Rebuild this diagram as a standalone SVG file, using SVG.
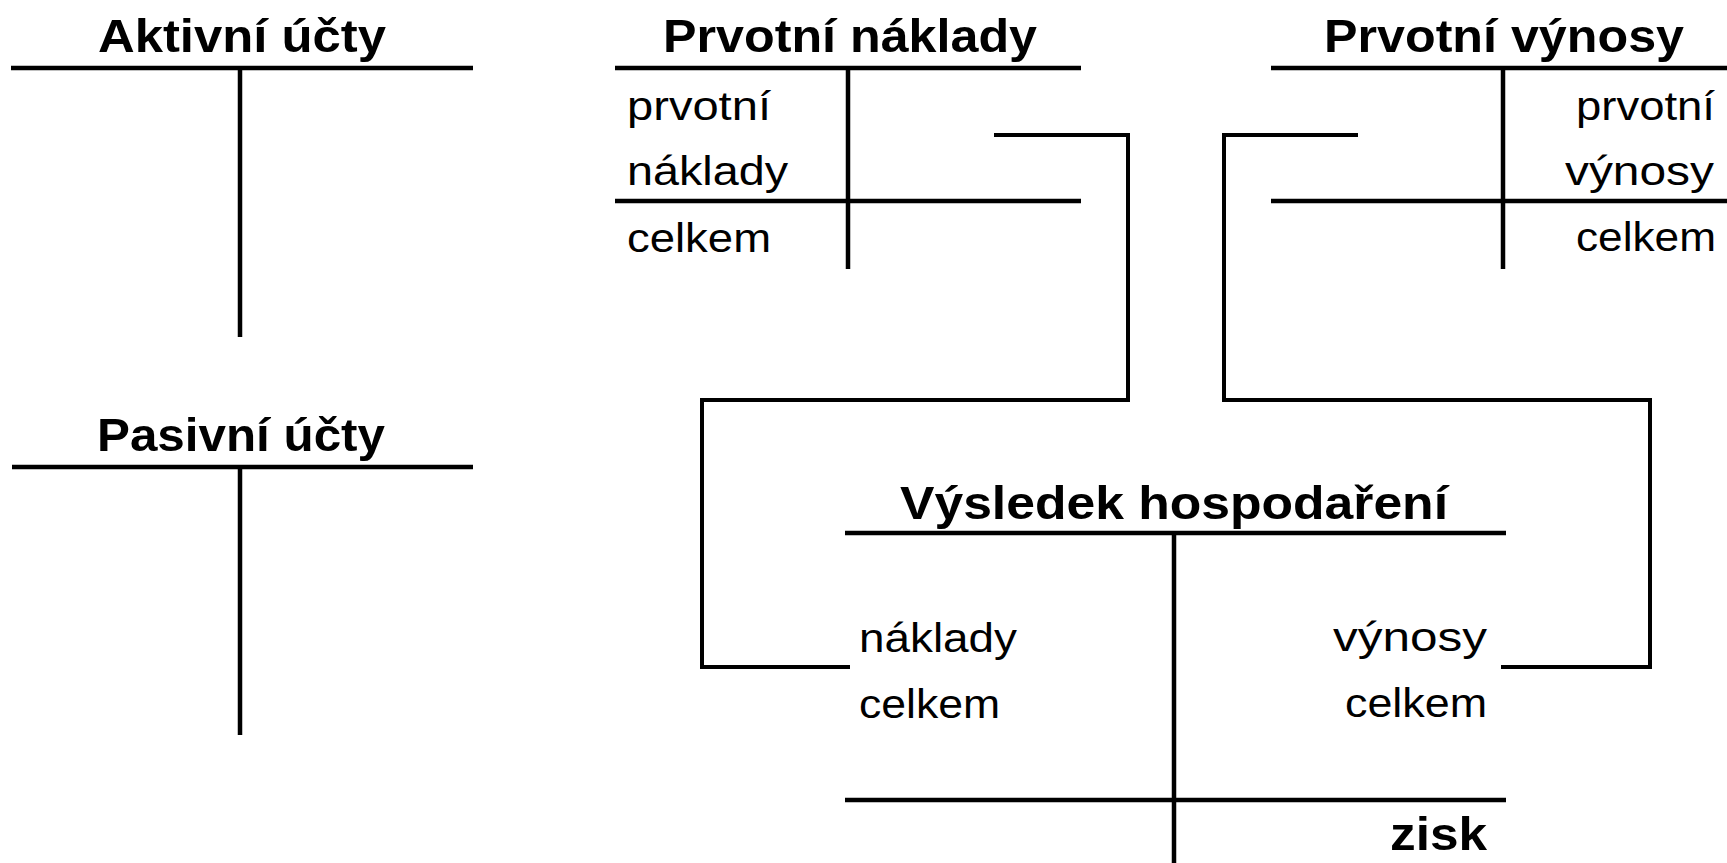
<svg xmlns="http://www.w3.org/2000/svg" width="1727" height="863" viewBox="0 0 1727 863">
<style>
.ln{stroke:#000;stroke-width:4.5;fill:none}
.cn{stroke:#000;stroke-width:4;fill:none;stroke-linejoin:miter}
.tt{font-family:"Liberation Sans",Arial,sans-serif;font-weight:bold;font-size:47px;fill:#000}
.tx{font-family:"Liberation Sans",Arial,sans-serif;font-size:40px;fill:#000}
</style>
<rect width="1727" height="863" fill="#fff"/>
<g id="aktivni">
<text class="tt" x="98" y="52" textLength="288" lengthAdjust="spacingAndGlyphs">Aktivní účty</text>
<line class="ln" x1="11" y1="68" x2="473" y2="68"/>
<line class="ln" x1="240" y1="68" x2="240" y2="337"/>
</g>
<g id="pasivni">
<text class="tt" x="97" y="451" textLength="288" lengthAdjust="spacingAndGlyphs">Pasivní účty</text>
<line class="ln" x1="12" y1="467" x2="473" y2="467"/>
<line class="ln" x1="240" y1="467" x2="240" y2="735"/>
</g>
<g id="prvotni-naklady">
<text class="tt" x="663" y="52" textLength="374" lengthAdjust="spacingAndGlyphs">Prvotní náklady</text>
<line class="ln" x1="615" y1="68" x2="1081" y2="68"/>
<line class="ln" x1="615" y1="201" x2="1081" y2="201"/>
<line class="ln" x1="848" y1="68" x2="848" y2="269"/>
<text class="tx" x="627" y="120" textLength="144" lengthAdjust="spacingAndGlyphs">prvotní</text>
<text class="tx" x="627" y="185" textLength="161" lengthAdjust="spacingAndGlyphs">náklady</text>
<text class="tx" x="627" y="252" textLength="144" lengthAdjust="spacingAndGlyphs">celkem</text>
</g>
<g id="prvotni-vynosy">
<text class="tt" x="1324" y="52" textLength="360" lengthAdjust="spacingAndGlyphs">Prvotní výnosy</text>
<line class="ln" x1="1271" y1="68" x2="1727" y2="68"/>
<line class="ln" x1="1271" y1="201" x2="1727" y2="201"/>
<line class="ln" x1="1503" y1="68" x2="1503" y2="269"/>
<text class="tx" x="1576" y="120" textLength="139" lengthAdjust="spacingAndGlyphs">prvotní</text>
<text class="tx" x="1565" y="185" textLength="149" lengthAdjust="spacingAndGlyphs">výnosy</text>
<text class="tx" x="1576" y="251" textLength="140" lengthAdjust="spacingAndGlyphs">celkem</text>
</g>
<g id="vysledek">
<text class="tt" x="900" y="519" textLength="548" lengthAdjust="spacingAndGlyphs">Výsledek hospodaření</text>
<line class="ln" x1="845" y1="533" x2="1506" y2="533"/>
<line class="ln" x1="845" y1="800" x2="1506" y2="800"/>
<line class="ln" x1="1174" y1="533" x2="1174" y2="863"/>
<text class="tx" x="859" y="652" textLength="158" lengthAdjust="spacingAndGlyphs">náklady</text>
<text class="tx" x="859" y="718" textLength="141" lengthAdjust="spacingAndGlyphs">celkem</text>
<text class="tx" x="1333" y="651" textLength="154" lengthAdjust="spacingAndGlyphs">výnosy</text>
<text class="tx" x="1345" y="717" textLength="142" lengthAdjust="spacingAndGlyphs">celkem</text>
<text class="tt" x="1390" y="850" textLength="97" lengthAdjust="spacingAndGlyphs">zisk</text>
</g>
<g id="connectors">
<polyline class="cn" points="994,135 1128,135 1128,400 702,400 702,667 850,667"/>
<polyline class="cn" points="1358,135 1224,135 1224,400 1650,400 1650,667 1501,667"/>
</g>
</svg>
